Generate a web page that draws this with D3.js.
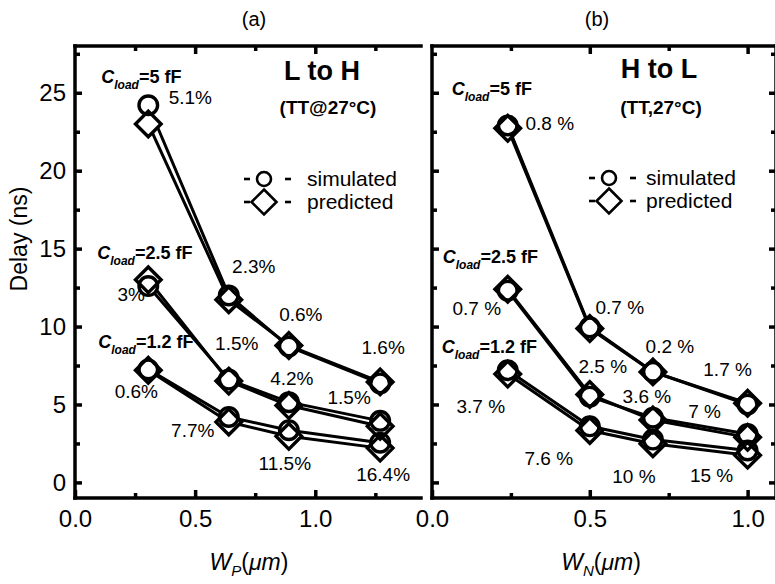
<!DOCTYPE html>
<html>
<head>
<meta charset="utf-8">
<script src="https://cdn.jsdelivr.net/npm/d3@7"></script>
<style>
  body { margin: 0; background: #fff; }
  svg { display: block; }
  text { font-family: "Liberation Sans", Arial, Helvetica, sans-serif; fill: #000; }
</style>
</head>
<body>
<svg id="chart" width="775" height="584"></svg>
<script>
// ---- data -------------------------------------------------------------
const loadLabels = ["5", "2.5", "1.2"];          // C_load in fF, per series row

// (a) L to H transition, x = W_P (um)
const wpValues = [0.305, 0.64, 0.89, 1.27];
const lhSimulated = [
  [24.2, 12.0, 8.72, 6.35],
  [12.6, 6.6, 5.15, 3.95],
  [7.25, 4.2, 3.35, 2.55]
];
const lhPredicted = [
  [23.0, 11.72, 8.78, 6.45],
  [13.0, 6.5, 4.93, 3.6],
  [7.2, 3.88, 2.96, 2.2]
];
const lhErrors = [
  ["5.1%", "2.3%", "0.6%", "1.6%"],
  ["3%", "1.5%", "4.2%", "1.5%"],
  ["0.6%", "7.7%", "11.5%", "16.4%"]
];

// (b) H to L transition, x = W_N (um)
const wnValues = [0.24, 0.5, 0.7, 1.0];
const hlSimulated = [
  [22.9, 9.95, 7.1, 5.0],
  [12.3, 5.5, 4.15, 3.1],
  [7.2, 3.6, 2.75, 2.05]
];
const hlPredicted = [
  [22.72, 9.88, 7.09, 5.08],
  [12.39, 5.64, 4.0, 2.89],
  [6.95, 3.33, 2.48, 1.75]
];
const hlErrors = [
  ["0.8 %", "0.7 %", "0.2 %", "1.7 %"],
  ["0.7 %", "2.5 %", "3.6 %", "7 %"],
  ["3.7 %", "7.6 %", "10 %", "15 %"]
];

const yMajorTicks = [0, 5, 10, 15, 20, 25];
const yMinorTicks = [2.5, 7.5, 12.5, 17.5, 22.5, 27.5];
const xMajorTicks = [0, 0.5, 1.0];
const xMinorTicks = [0.25, 0.75, 1.25];

// ---- layout (pixel offsets of annotations from their simulated point) --
const lhErrOffsets = [
  [[42, -1], [25, -22], [12, -26], [3, -29]],
  [[-17, 15], [8, -30], [3, -17], [-31, -17]],
  [[-12, 29], [-36, 20], [-4, 40], [3, 38]]
];
const hlErrOffsets = [
  [[42, 5], [30, -13], [17, -19], [-20, -28]],
  [[-31, 24], [13, -24], [-6, -15], [-43, -16]],
  [[-27, 43], [-41, 39], [-19, 43], [-36, 32]]
];
const lhLoadOffsets = [[-47, -22], [-51, -27], [-50, -21]];
const hlLoadOffsets = [[-56, -30], [-65, -28], [-66, -17]];

// ---- drawing ----------------------------------------------------------
const svg = d3.select("#chart");
const TOP = 46, BOTTOM = 498;
const y = d3.scaleLinear().domain([-1, 28]).range([BOTTOM, TOP]);
const xA = d3.scaleLinear().domain([0, 1.44]).range([75, 421]);
const xB = d3.scaleLinear().domain([0, 1.09]).range([432, 776]);

const AXIS_W = 3.5, LINE_W = 3, MARK_W = 3.4;
const CIRCLE_R = 9.3, DIAMOND_R = 12.8;

function diamondPath(r) {
  return `M0,${-r}L${r},0L0,${r}L${-r},0Z`;
}

function styleAxis(g) {
  g.select(".domain").remove();
  g.selectAll(".tick line").attr("stroke", "#000").attr("stroke-width", AXIS_W);
  g.selectAll(".tick text").style("font-size", "24px");
}

function drawFrame(g, x, withRight) {
  const [x0, x1] = x.range();
  const frame = g.append("g").attr("stroke", "#000").attr("stroke-width", AXIS_W)
    .attr("stroke-linecap", "square").attr("fill", "none");
  frame.append("line").attr("x1", x0).attr("x2", x0).attr("y1", TOP).attr("y2", BOTTOM);
  frame.append("line").attr("x1", x0).attr("x2", x1).attr("y1", TOP).attr("y2", TOP);
  frame.append("line").attr("x1", x0).attr("x2", x1).attr("y1", BOTTOM).attr("y2", BOTTOM);
  if (withRight) frame.append("line").attr("x1", x1).attr("x2", x1).attr("y1", TOP).attr("y2", BOTTOM);
}

function drawAxes(g, x, opts) {
  const [x0, x1] = x.range();
  const xMinor = xMinorTicks.filter(v => x(v) < x1 - 4);
  // left
  g.append("g").attr("transform", `translate(${x0},0)`)
    .call(d3.axisLeft(y).tickValues(yMajorTicks).tickSize(-7).tickPadding(9)
      .tickFormat(opts.yLabels ? d3.format("d") : ""))
    .call(styleAxis);
  g.append("g").attr("transform", `translate(${x0},0)`)
    .call(d3.axisLeft(y).tickValues(yMinorTicks).tickSize(-5).tickFormat(""))
    .call(styleAxis);
  // right (only where the frame has a right side)
  if (opts.rightTicks) {
    g.append("g").attr("transform", `translate(${x1},0)`)
      .call(d3.axisRight(y).tickValues(yMajorTicks).tickSize(-7).tickFormat(""))
      .call(styleAxis);
    g.append("g").attr("transform", `translate(${x1},0)`)
      .call(d3.axisRight(y).tickValues(yMinorTicks).tickSize(-5).tickFormat(""))
      .call(styleAxis);
  }
  // bottom
  g.append("g").attr("transform", `translate(0,${BOTTOM})`)
    .call(d3.axisBottom(x).tickValues(xMajorTicks).tickSize(-8).tickPadding(12)
      .tickFormat(d3.format(".1f")))
    .call(styleAxis);
  g.append("g").attr("transform", `translate(0,${BOTTOM})`)
    .call(d3.axisBottom(x).tickValues(xMinor).tickSize(-5).tickFormat(""))
    .call(styleAxis);
  // top
  g.append("g").attr("transform", `translate(0,${TOP})`)
    .call(d3.axisTop(x).tickValues(xMajorTicks.filter(v => v > 0)).tickSize(-8).tickFormat(""))
    .call(styleAxis);
  g.append("g").attr("transform", `translate(0,${TOP})`)
    .call(d3.axisTop(x).tickValues(xMinor).tickSize(-5).tickFormat(""))
    .call(styleAxis);
}

function loadLabel(g, px, py, value) {
  const t = g.append("text").attr("x", px).attr("y", py)
    .style("font-size", "18px").style("font-weight", "bold");
  t.append("tspan").style("font-style", "italic").text("C");
  t.append("tspan").style("font-style", "italic").style("font-size", "12px")
    .attr("dy", 6).text("load");
  t.append("tspan").attr("dy", -6).text(`=${value} fF`);
}

function drawSeries(g, x, xs, sim, pred, errs, errOffsets, loadOffsets) {
  const line = d3.line().x(d => x(d[0])).y(d => y(d[1]));
  const labels = g.append("g");
  const lines = g.append("g").attr("fill", "none").attr("stroke", "#000")
    .attr("stroke-width", LINE_W).attr("stroke-linejoin", "round");
  const fills = g.append("g").attr("fill", "#fff").attr("stroke", "none");
  const outlines = g.append("g").attr("fill", "none").attr("stroke", "#000")
    .attr("stroke-width", MARK_W);

  sim.forEach((row, i) => {
    const simPts = xs.map((v, j) => [v, row[j]]);
    const predPts = xs.map((v, j) => [v, pred[i][j]]);
    lines.append("path").attr("d", line(simPts));
    lines.append("path").attr("d", line(predPts));

    // C_load annotation beside the first point
    loadLabel(labels, x(xs[0]) + loadOffsets[i][0], y(row[0]) + loadOffsets[i][1], loadLabels[i]);

    // percentage error labels
    errs[i].forEach((txt, j) => {
      labels.append("text")
        .attr("x", x(xs[j]) + errOffsets[i][j][0])
        .attr("y", y(row[j]) + errOffsets[i][j][1])
        .attr("text-anchor", "middle")
        .style("font-size", "19px")
        .text(txt);
    });

    [fills, outlines].forEach(layer => {
      layer.selectAll(null).data(simPts).enter().append("circle")
        .attr("cx", d => x(d[0])).attr("cy", d => y(d[1])).attr("r", CIRCLE_R);
      layer.selectAll(null).data(predPts).enter().append("path")
        .attr("transform", d => `translate(${x(d[0])},${y(d[1])})`)
        .attr("d", diamondPath(DIAMOND_R));
    });
  });
}

function drawLegend(g, cx, cy, textX) {
  const lg = g.append("g").attr("stroke", "#000").attr("stroke-width", 2.6).attr("fill", "#fff");
  const rows = [
    { yy: cy, label: "simulated" },
    { yy: cy + 23, label: "predicted" }
  ];
  rows.forEach(r => {
    lg.append("line").attr("x1", cx - 20).attr("x2", cx - 14).attr("y1", r.yy).attr("y2", r.yy);
    lg.append("line").attr("x1", cx + 21).attr("x2", cx + 27).attr("y1", r.yy).attr("y2", r.yy);
  });
  lg.append("path").attr("transform", `translate(${cx},${cy + 23})`).attr("d", diamondPath(12.5));
  lg.append("circle").attr("cx", cx).attr("cy", cy).attr("r", 7);
  rows.forEach(r => {
    g.append("text").attr("x", textX).attr("y", r.yy + 7)
      .style("font-size", "21px").text(r.label);
  });
}

function axisTitle(g, cx, sub) {
  const t = g.append("text").attr("x", cx).attr("y", 570).attr("text-anchor", "middle")
    .style("font-size", "23px");
  t.append("tspan").style("font-style", "italic").text("W");
  t.append("tspan").style("font-style", "italic").style("font-size", "15px").attr("dy", 6).text(sub);
  t.append("tspan").attr("dy", -6).text("(");
  t.append("tspan").style("font-style", "italic").text("\u03bcm");
  t.append("tspan").text(")");
}

// ---- panel (a) --------------------------------------------------------
const gA = svg.append("g");
drawSeries(gA, xA, wpValues, lhSimulated, lhPredicted, lhErrors, lhErrOffsets, lhLoadOffsets);
drawFrame(gA, xA, false);
drawAxes(gA, xA, { yLabels: true, rightTicks: false });
gA.append("text").attr("x", 254).attr("y", 26).attr("text-anchor", "middle")
  .style("font-size", "20px").text("(a)");
gA.append("text").attr("x", 322).attr("y", 80).attr("text-anchor", "middle")
  .style("font-size", "27px").style("font-weight", "bold").text("L to H");
gA.append("text").attr("x", 328).attr("y", 114).attr("text-anchor", "middle")
  .style("font-size", "19px").style("font-weight", "bold").text("(TT@27\u00b0C)");
drawLegend(gA, 264, 179, 307);
axisTitle(gA, 249, "P");
gA.append("text")
  .attr("transform", `translate(27,239) rotate(-90)`)
  .attr("text-anchor", "middle").style("font-size", "23px").text("Delay (ns)");

// ---- panel (b) --------------------------------------------------------
const gB = svg.append("g");
drawSeries(gB, xB, wnValues, hlSimulated, hlPredicted, hlErrors, hlErrOffsets, hlLoadOffsets);
drawFrame(gB, xB, true);
drawAxes(gB, xB, { yLabels: false, rightTicks: true });
gB.append("text").attr("x", 597).attr("y", 26).attr("text-anchor", "middle")
  .style("font-size", "20px").text("(b)");
gB.append("text").attr("x", 659).attr("y", 78).attr("text-anchor", "middle")
  .style("font-size", "27px").style("font-weight", "bold").text("H to L");
gB.append("text").attr("x", 661).attr("y", 114).attr("text-anchor", "middle")
  .style("font-size", "19px").style("font-weight", "bold").text("(TT,27\u00b0C)");
drawLegend(gB, 609, 178, 646);
axisTitle(gB, 601, "N");
</script>
</body>
</html>
